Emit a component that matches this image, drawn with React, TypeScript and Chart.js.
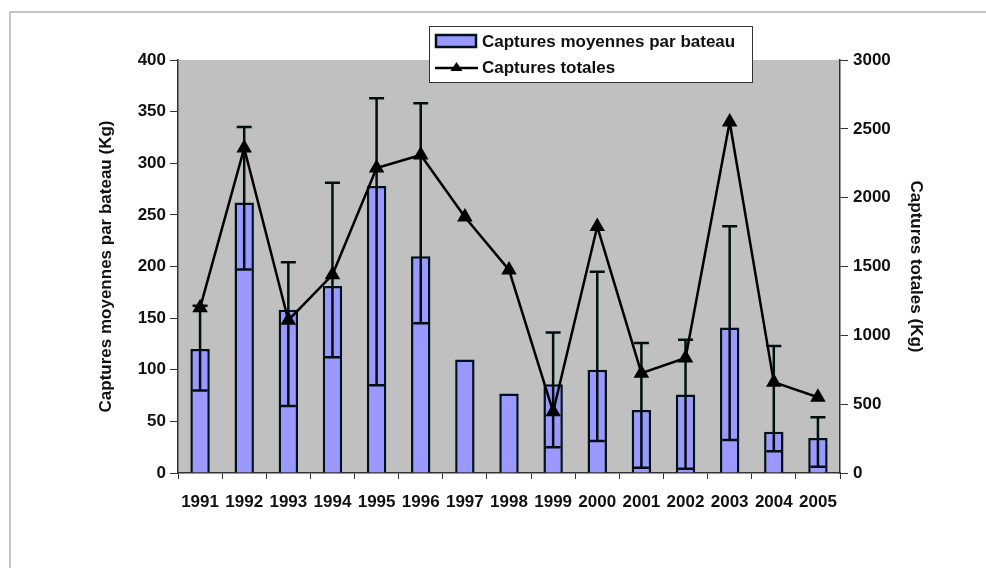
import React, { useEffect, useRef } from 'react';
import { Chart, registerables } from 'chart.js';

Chart.register(...registerables);

const years = ['1991', '1992', '1993', '1994', '1995', '1996', '1997', '1998', '1999', '2000', '2001', '2002', '2003', '2004', '2005'];
const meanCatch = [120, 262, 158, 181, 278, 210, 110, 77, 86, 100, 61, 76, 141, 40, 34];
const errLow = [80, 197, 65, 112, 85, 145, null, null, 25, 31, 5, 4, 32, 21, 6];
const errHigh = [162, 335, 204, 281, 363, 358, null, null, 136, 195, 126, 129, 239, 123, 54];
const totalCatch = [1200, 2360, 1110, 1440, 2215, 2310, 1860, 1475, 445, 1790, 725, 835, 2550, 660, 550];

const barLabel = 'Captures moyennes par bateau';
const lineLabel = 'Captures totales';
const leftTitle = 'Captures moyennes par bateau (Kg)';
const rightTitle = 'Captures totales (Kg)';

const FONT = '"Liberation Sans", Arial, sans-serif';
const BAR_FILL = '#9999ff';
const BAR_EDGE = '#00101c';

const framePlugin = {
  id: 'frame',
  beforeDraw(chart: any) {
    const { ctx, chartArea } = chart;
    ctx.save();
    ctx.fillStyle = '#ffffff';
    ctx.fillRect(0, 0, chart.width, chart.height);
    ctx.strokeStyle = '#b4b4b4';
    ctx.lineWidth = 1.5;
    ctx.beginPath();
    ctx.moveTo(10, chart.height);
    ctx.lineTo(10, 12);
    ctx.lineTo(chart.width, 12);
    ctx.stroke();
    ctx.fillStyle = '#c0c0c0';
    ctx.fillRect(chartArea.left, chartArea.top, chartArea.right - chartArea.left, chartArea.bottom - chartArea.top);
    ctx.restore();
  },
};

const errorBarPlugin = {
  id: 'errorBars',
  afterDatasetDraw(chart: any, args: any) {
    const ds = chart.data.datasets[args.index];
    if (ds.type !== 'bar') return;
    const meta = chart.getDatasetMeta(args.index);
    const y = chart.scales.y;
    const ctx = chart.ctx;
    ctx.save();
    ctx.strokeStyle = '#001010';
    ctx.lineWidth = 2.5;
    meta.data.forEach((el: any, i: number) => {
      const lo = errLow[i];
      const hi = errHigh[i];
      if (lo == null || hi == null) return;
      const x = el.x;
      const yl = y.getPixelForValue(lo);
      const yh = y.getPixelForValue(hi);
      ctx.beginPath();
      ctx.moveTo(x, yl);
      ctx.lineTo(x, yh);
      ctx.moveTo(x - 7.5, yl);
      ctx.lineTo(x + 7.5, yl);
      ctx.moveTo(x - 7.5, yh);
      ctx.lineTo(x + 7.5, yh);
      ctx.stroke();
    });
    ctx.restore();
  },
};

const legendPlugin = {
  id: 'boxLegend',
  afterDraw(chart: any) {
    const ctx = chart.ctx;
    ctx.save();
    const bx = 429, by = 26, bw = 323, bh = 56;
    ctx.fillStyle = '#ffffff';
    ctx.fillRect(bx, by, bw, bh);
    ctx.strokeStyle = '#333333';
    ctx.lineWidth = 1;
    ctx.strokeRect(bx + 0.5, by + 0.5, bw, bh);
    // bar swatch
    ctx.fillStyle = BAR_FILL;
    ctx.fillRect(436, 35, 40, 12);
    ctx.strokeStyle = BAR_EDGE;
    ctx.lineWidth = 2.5;
    ctx.strokeRect(436, 35, 40, 12);
    // line swatch
    ctx.strokeStyle = '#000000';
    ctx.lineWidth = 2.5;
    ctx.beginPath();
    ctx.moveTo(435, 68);
    ctx.lineTo(478, 68);
    ctx.stroke();
    ctx.fillStyle = '#000000';
    ctx.beginPath();
    ctx.moveTo(456.5, 62);
    ctx.lineTo(462.5, 71);
    ctx.lineTo(450.5, 71);
    ctx.closePath();
    ctx.fill();
    ctx.fillStyle = '#111111';
    ctx.font = `bold 17px ${FONT}`;
    ctx.textBaseline = 'middle';
    ctx.textAlign = 'left';
    ctx.fillText(barLabel, 482, 42);
    ctx.fillText(lineLabel, 482, 68);
    ctx.restore();
  },
};

export default function App() {
  const ref = useRef<HTMLCanvasElement>(null);
  useEffect(() => {
    if (!ref.current) return;
    const tickFont = { family: FONT, size: 17, weight: 'bold' as const };
    const chart = new Chart(ref.current, {
      data: {
        labels: years,
        datasets: [
          {
            type: 'line' as const,
            label: lineLabel,
            data: totalCatch,
            yAxisID: 'y1',
            borderColor: '#000000',
            backgroundColor: '#000000',
            borderWidth: 2.5,
            pointStyle: 'triangle',
            pointRadius: 6.5,
            pointBackgroundColor: '#000000',
            pointBorderColor: '#000000',
            tension: 0,
            order: 0,
          },
          {
            type: 'bar' as const,
            label: barLabel,
            data: meanCatch,
            yAxisID: 'y',
            backgroundColor: BAR_FILL,
            borderColor: BAR_EDGE,
            borderWidth: 2.5,
            barPercentage: 0.44,
            categoryPercentage: 1,
            order: 1,
          },
        ],
      },
      options: {
        responsive: false,
        animation: false,
        layout: { padding: { left: 96, right: 60, top: 60, bottom: 0 } },
        plugins: { legend: { display: false }, tooltip: { enabled: false } },
        scales: {
          x: {
            type: 'category',
            offset: true,
            grid: { offset: true, drawOnChartArea: false, drawTicks: true, tickLength: 6, color: '#333333' },
            border: { display: true, color: '#333333', width: 1.5 },
            ticks: { color: '#111111', font: tickFont, padding: 13, maxRotation: 0, autoSkip: false },
            afterFit: (s: any) => { s.height = 95; },
          },
          y: {
            position: 'left',
            min: 0,
            max: 400,
            ticks: { stepSize: 50, color: '#111111', font: tickFont, padding: 4 },
            grid: { drawOnChartArea: false, drawTicks: true, tickLength: 8, color: '#333333' },
            border: { display: true, color: '#333333', width: 1.5 },
            title: { display: true, text: leftTitle, color: '#111111', font: tickFont, padding: 0 },
            afterFit: (s: any) => { s.width = 82; },
          },
          y1: {
            position: 'right',
            min: 0,
            max: 3000,
            ticks: { stepSize: 500, color: '#111111', font: tickFont, padding: 5, callback: (v: any) => String(v) },
            grid: { drawOnChartArea: false, drawTicks: true, tickLength: 8, color: '#333333' },
            border: { display: true, color: '#333333', width: 1.5 },
            title: { display: true, text: rightTitle, color: '#111111', font: tickFont, padding: 0 },
            afterFit: (s: any) => { s.width = 86; },
          },
        },
      },
      plugins: [framePlugin, errorBarPlugin, legendPlugin],
    });
    return () => chart.destroy();
  }, []);
  return (
    <div style={{ position: 'absolute', left: 0, top: 0, width: 986, height: 568 }}>
      <canvas ref={ref} width={986} height={568} style={{ display: 'block', width: 986, height: 568 }} />
    </div>
  );
}
